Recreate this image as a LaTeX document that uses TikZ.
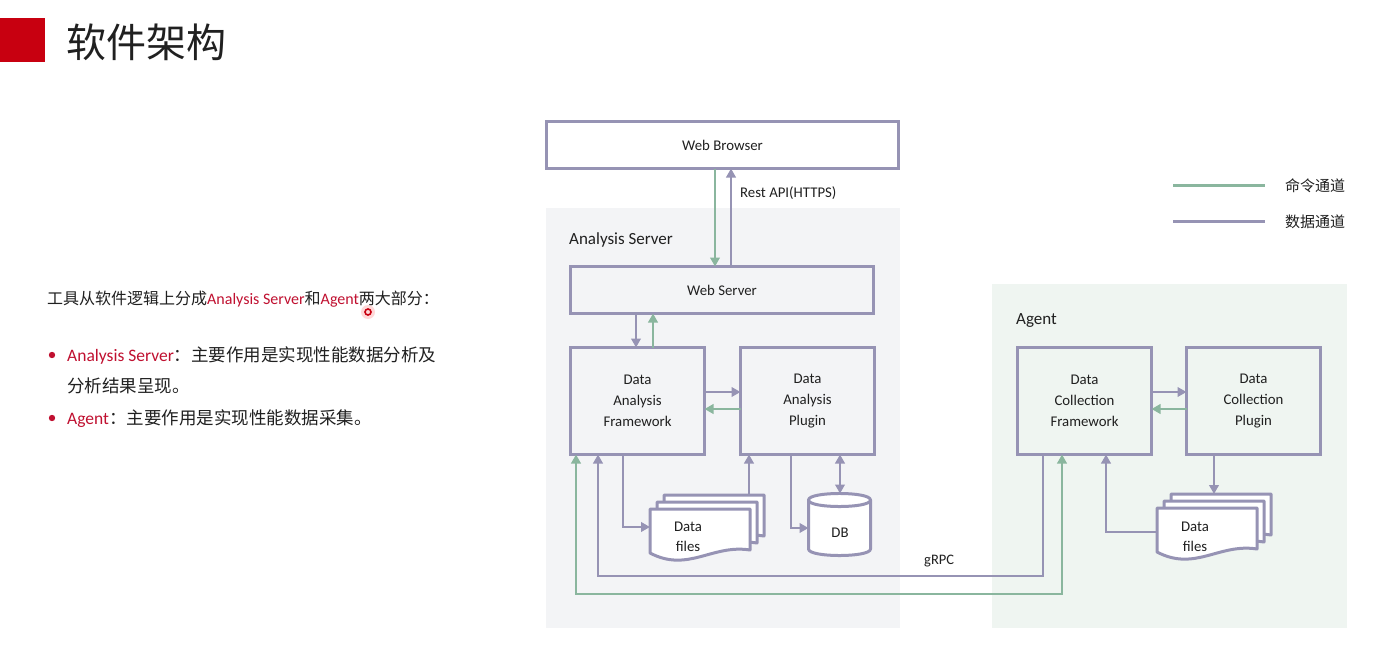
\documentclass[tikz,border=0pt]{standalone}
\usepackage{fontspec}
\setmainfont{Carlito}
\newfontfamily\cjk{Noto Sans CJK SC}
\usetikzlibrary{arrows.meta}
\definecolor{pur}{RGB}{150,147,180}
\definecolor{grn}{RGB}{138,182,158}
\definecolor{redc}{RGB}{200,0,16}
\definecolor{redt}{RGB}{192,16,48}
\definecolor{txtc}{RGB}{32,32,32}
\definecolor{bgA}{RGB}{243,244,246}
\definecolor{bgB}{RGB}{239,245,241}
\newcommand{\docshape}[2]{\draw[docst, shift={(#1,#2)}] (0,0) -- (100,0) -- (100,41) .. controls (62,35) and (38,64) .. (0,44) -- cycle;}
\begin{document}
\begin{tikzpicture}[x=1pt,y=-1pt,
  box/.style={draw=pur, line width=3pt, inner sep=0pt, outer sep=0pt, text=txtc, font=\fontsize{14.8}{21}\selectfont, align=center},
  hole/.style={inner sep=0pt, outer sep=0pt},
  lbl/.style={inner sep=0pt, text=txtc, font=\fontsize{14.8}{20}\selectfont, align=center},
  docst/.style={draw=pur, line width=3pt, fill=white, line join=round},
  parr/.style={draw=pur, line width=2.8pt, -{Triangle[length=9pt,width=9.5pt]}},
  garr/.style={draw=grn, line width=2.8pt, -{Triangle[length=9pt,width=9.5pt]}},
  pboth/.style={draw=pur, line width=2.8pt, {Triangle[length=9pt,width=9.5pt]}-{Triangle[length=9pt,width=9.5pt]}},
  gboth/.style={draw=grn, line width=2.8pt, {Triangle[length=9pt,width=9.5pt]}-{Triangle[length=9pt,width=9.5pt]}},
  intro/.style={anchor=base west, inner sep=0pt, text=txtc},
]
\useasboundingbox[fill=white] (0,0) rectangle (1400,666);

% ---- title ----
\fill[redc] (0,18) rectangle (45,62);
\node[intro, font=\fontsize{40}{40}\selectfont] (title) at (66,58) {\cjk 软件架构};

% ---- left text ----
\node[intro, font=\fontsize{16}{16}\selectfont] (l1) at (47,304) {\cjk 工具从软件逻辑上分成{\rmfamily\color{redt}Analysis Server}和{\rmfamily\color{redt}Agent}两大部分：};
\fill[red!30, opacity=0.5] (368,312) circle[radius=7pt];
\draw[redc, line width=1.6pt] (368,312) circle[radius=3pt];
\fill[redt] (52,355) circle[radius=3.2pt];
\node[intro, font=\fontsize{17.5}{17.5}\selectfont] (b1) at (67,361.5) {{\color{redt}Analysis Server}{\cjk ：主要作用是实现性能数据分析及}};
\node[intro, font=\fontsize{17.5}{17.5}\selectfont] (b1b) at (67,392.5) {\cjk 分析结果呈现。};
\fill[redt] (52,418) circle[radius=3.2pt];
\node[intro, font=\fontsize{17.5}{17.5}\selectfont] (b2) at (67,424.5) {{\color{redt}Agent}{\cjk ：主要作用是实现性能数据采集。}};

% ---- backgrounds ----
\fill[bgA] (546,208) rectangle (900,628);
\fill[bgB] (992,284) rectangle (1347,628);
\node[anchor=west, inner sep=0pt, text=txtc, font=\fontsize{17}{17}\selectfont] (asl) at (569,240) {Analysis Server};
\node[anchor=west, inner sep=0pt, text=txtc, font=\fontsize{17}{17}\selectfont] (agl) at (1016,321) {Agent};

% ---- boxes ----
\node[box, fill=white, minimum width=352pt, minimum height=47pt] (wb) at (722.5,145) {Web Browser};
\node[box, minimum width=303pt, minimum height=47pt] (ws) at (722,290) {Web Server};
\node[box, minimum width=134pt, minimum height=107pt] (daf) at (637.5,401) {Data\\Analysis\\Framework};
\node[box, minimum width=134pt, minimum height=107pt] (dap) at (807.5,401) {Data\\Analysis\\Plugin};
\node[box, minimum width=134pt, minimum height=107pt] (dcf) at (1084.5,401) {Data\\Collection\\Framework};
\node[box, minimum width=134pt, minimum height=107pt] (dcp) at (1253.5,401) {Data\\Collection\\Plugin};

% ---- data files (analysis) ----
\docshape{664}{495}
\docshape{657}{502}
\docshape{650}{509}
\node[hole, minimum width=100pt, minimum height=44pt] (df1) at (700,531) {};
\node[hole, minimum width=100pt, minimum height=44pt] (df1back) at (714,517) {};
\node[lbl] (df1t) at (688,537) {Data\\files};

% ---- data files (agent) ----
\docshape{1171}{494}
\docshape{1164}{501}
\docshape{1157}{508}
\node[hole, minimum width=100pt, minimum height=44pt] (df2) at (1207,530) {};
\node[hole, minimum width=100pt, minimum height=44pt] (df2back) at (1221,516) {};
\node[lbl] (df2t) at (1195,537) {Data\\files};

% ---- DB ----
\draw[docst] (808.5,500) -- (808.5,549) .. controls (808.5,557.7) and (870.5,557.7) .. (870.5,549) -- (870.5,500) .. controls (870.5,491.3) and (808.5,491.3) .. cycle;
\draw[docst, fill=none] (808.5,500) .. controls (808.5,508.7) and (870.5,508.7) .. (870.5,500);
\node[hole, minimum width=62pt, minimum height=62pt] (db) at (839.5,524.5) {};
\node[lbl] (dbt) at (840,533) {DB};

% ---- connectors ----
\draw[garr] (715,0 |- wb.south) -- (715,0 |- ws.north);
\draw[parr] (731,0 |- ws.north) -- (731,0 |- wb.south);
\node[anchor=west, inner sep=0pt, text=txtc, font=\fontsize{14.8}{14.8}\selectfont] (rest) at (740,193) {Rest API(HTTPS)};

\draw[parr] (636,0 |- ws.south) -- (636,0 |- daf.north);
\draw[garr] (653,0 |- daf.north) -- (653,0 |- ws.south);

\draw[parr] (daf.east |- 0,392) -- (dap.west |- 0,392);
\draw[garr] (dap.west |- 0,409) -- (daf.east |- 0,409);
\draw[parr] (dcf.east |- 0,392) -- (dcp.west |- 0,392);
\draw[garr] (dcp.west |- 0,409) -- (dcf.east |- 0,409);

\draw[parr] (623,0 |- daf.south) -- (623,527) -- (df1.west |- 0,527);
\draw[parr] (749,0 |- df1back.north) -- (749,0 |- dap.south);
\draw[parr] (791,0 |- dap.south) -- (791,528) -- (db.west |- 0,528);
\draw[pboth] (840,0 |- db.north) -- (840,0 |- dap.south);

\draw[parr] (1214,0 |- dcp.south) -- (1214,0 |- df2back.north);
\draw[parr] (df2.west |- 0,532) -- (1106,532) -- (1106,0 |- dcf.south);

\draw[parr, line join=miter] (1043,0 |- dcf.south) -- (1043,576) -- (598,576) -- (598,0 |- daf.south);
\draw[gboth, line join=miter] (1062,0 |- dcf.south) -- (1062,594) -- (576,594) -- (576,0 |- daf.south);
\node[anchor=west, inner sep=0pt, text=txtc, font=\fontsize{14.5}{14.5}\selectfont] (grpc) at (924,561) {gRPC};

% ---- legend ----
\coordinate (lg1a) at (1173,185);
\coordinate (lg1b) at (1265,185);
\coordinate (lg2a) at (1173,221);
\coordinate (lg2b) at (1265,221);
\draw[grn, line width=3pt] (lg1a) -- (lg1b);
\draw[pur, line width=3pt] (lg2a) -- (lg2b);
\node[anchor=west, inner sep=0pt, text=txtc, font=\fontsize{15}{15}\selectfont] (lgt1) at (1285,186) {\cjk 命令通道};
\node[anchor=west, inner sep=0pt, text=txtc, font=\fontsize{15}{15}\selectfont] (lgt2) at (1285,222) {\cjk 数据通道};
\end{tikzpicture}
\end{document}
